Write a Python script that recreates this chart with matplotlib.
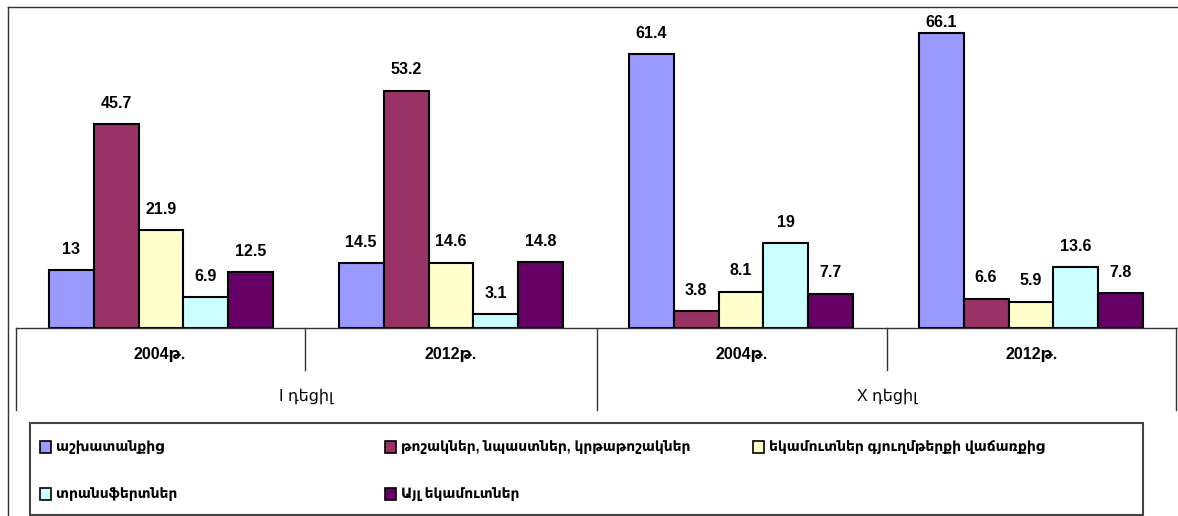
import matplotlib
matplotlib.use("Agg")
import matplotlib.pyplot as plt
from matplotlib.patches import Rectangle
from matplotlib.lines import Line2D
import numpy as np

plt.rcParams["font.family"] = ["Liberation Sans", "DejaVu Sans"]

# ── Data ──────────────────────────────────────────────────────────────────────
years = ["2004թ.", "2012թ.", "2004թ.", "2012թ."]
deciles = ["I դեցիլ", "X դեցիլ"]
series_names = [
    "աշխատանքից",
    "թոշակներ, նպաստներ, կրթաթոշակներ",
    "եկամուտներ գյուղմթերքի վաճառքից",
    "տրանսֆերտներ",
    "Այլ եկամուտներ",
]
work      = [13, 14.5, 61.4, 66.1]
pensions  = [45.7, 53.2, 3.8, 6.6]
agri      = [21.9, 14.6, 8.1, 5.9]
transfers = [6.9, 3.1, 19, 13.6]
other     = [12.5, 14.8, 7.7, 7.8]
series = [work, pensions, agri, transfers, other]
colors = ["#9999FF", "#993366", "#FFFFCC", "#CCFFFF", "#660066"]

W, H = 1178, 516
fig = plt.figure(figsize=(W / 100, H / 100), dpi=100, facecolor="white")


def fx(px):
    return px / W


def fy(py):
    return 1 - py / H


ax = fig.add_axes([fx(16), fy(328), fx(1176) - fx(16), fy(16) - fy(328)])
ax.set_xlim(-0.5, 3.5)
ax.set_ylim(0, 70)
ax.axis("off")

x = np.arange(len(years))
bw = 0.155
for i, (vals, col) in enumerate(zip(series, colors)):
    pos = x + (i - 2) * bw
    bars = ax.bar(pos, vals, width=bw, color=col, edgecolor="black", linewidth=1.5)
    for b, v in zip(bars, vals):
        # labels sit above the bar, squeezed under the top edge when needed
        ty = min(v + 4.7, 68.6)
        ax.text(b.get_x() + b.get_width() / 2, ty, f"{v:g}",
                ha="center", va="center", fontsize=11.5, fontweight="bold")

# ── Category table below the bars ─────────────────────────────────────────────
lc = "#333333"
fig.add_artist(Line2D([fx(16), fx(1178)], [fy(328), fy(328)], color=lc, lw=1))
for px in [16, 597, 1176]:
    fig.add_artist(Line2D([fx(px), fx(px)], [fy(328), fy(410)], color=lc, lw=1))
for px in [305, 887]:
    fig.add_artist(Line2D([fx(px), fx(px)], [fy(328), fy(370)], color=lc, lw=1))
ycen = [160, 451, 742, 1032]
for c, lab in zip(ycen, years):
    fig.text(fx(c), fy(354), lab, ha="center", va="center", fontsize=11.5, fontweight="bold")
for c, lab in zip([306, 887], deciles):
    fig.text(fx(c), fy(396), lab, ha="center", va="center", fontsize=11.5)

# ── Outer frame ───────────────────────────────────────────────────────────────
fig.add_artist(Line2D([fx(8), fx(8)], [fy(7), 0], color=lc, lw=1))
fig.add_artist(Line2D([fx(8), 1], [fy(7), fy(7)], color=lc, lw=1))

# ── Legend ────────────────────────────────────────────────────────────────────
fig.add_artist(Rectangle((fx(30), fy(515)), fx(1143) - fx(30), fy(423) - fy(515),
                         transform=fig.transFigure, facecolor="none",
                         edgecolor="#444444", lw=1.5))
leg_pos = [(40, 447), (385, 447), (753, 447), (40, 494), (385, 494)]
for (px, py), name, col in zip(leg_pos, series_names, colors):
    fig.add_artist(Rectangle((fx(px), fy(py + 6)), fx(px + 11) - fx(px), fy(py - 6) - fy(py + 6),
                             transform=fig.transFigure, facecolor=col,
                             edgecolor="black", lw=1.2))
    fig.text(fx(px + 16), fy(py), name, ha="left", va="center", fontsize=10,
             fontweight="bold")

fig.savefig("out.png", dpi=100, facecolor="white")
